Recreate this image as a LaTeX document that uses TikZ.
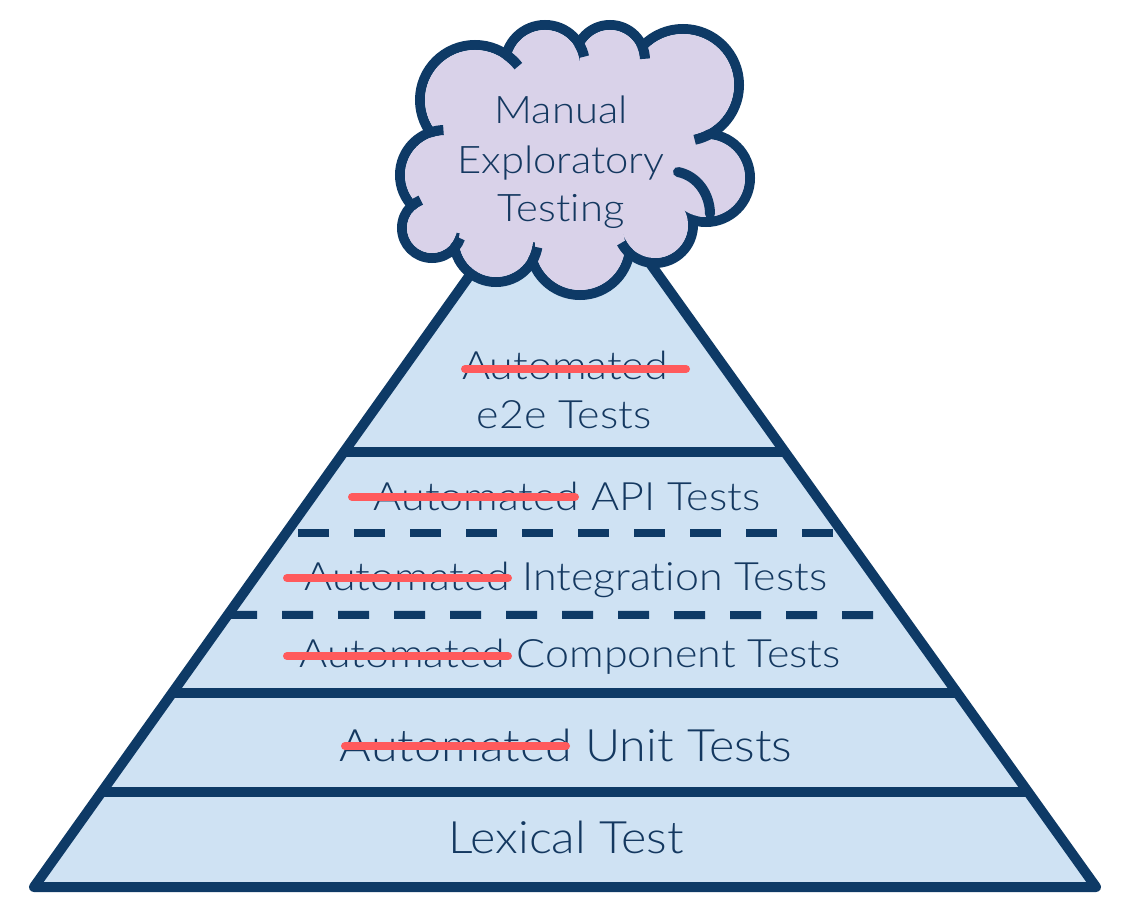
\documentclass[tikz,border=0pt]{standalone}
\usepackage{fontspec}
\setmainfont{Lato}
\newfontfamily\labelfont{Lato Light}[Ligatures=NoCommon]
\usetikzlibrary{calc}
\definecolor{navy}{RGB}{14,58,102}
\definecolor{inkblue}{RGB}{20,56,96}
\definecolor{layerfill}{RGB}{207,226,243}
\definecolor{cloudfill}{RGB}{217,210,233}
\definecolor{strikered}{RGB}{255,90,92}
\begin{document}
\begin{tikzpicture}[x=0.75pt,y=-0.75pt,
  outline/.style={draw=navy,line width=7.5pt,line join=round,line cap=round},
  divider/.style={draw=navy,line width=7.5pt},
  dashdivider/.style={draw=navy,line width=6pt,dash pattern=on 23.25pt off 18.75pt},
  strike/.style={draw=strikered,line width=6pt,line cap=round},
  cloudline/.style={draw=navy,line width=7.5pt},
  txt/.style={text=inkblue,anchor=base,inner sep=0pt},
  bigtext/.style={txt,font=\labelfont\addfontfeatures{FakeStretch=1.085}\fontsize{33.5}{40}\selectfont},
  midtext/.style={txt,font=\labelfont\addfontfeatures{FakeStretch=1.10}\fontsize{29.3}{35}\selectfont},
  cloudtext/.style={txt,font=\labelfont\addfontfeatures{FakeStretch=1.10}\fontsize{28.5}{34}\selectfont},
]
\useasboundingbox (0,0) rectangle (1125,916);

% pyramid body
\coordinate (apex) at (564,143);
\coordinate (bl) at (34,887);
\coordinate (br) at (1096,887);
\filldraw[fill=layerfill,outline] (apex) -- (bl) -- (br) -- cycle;

% solid layer dividers
\foreach \name/\t in {d1/0.4153, d4/0.7392, d5/0.8723}{
  \coordinate (\name-L) at ($(apex)!\t!(bl)$);
  \coordinate (\name-R) at ($(apex)!\t!(br)$);
  \draw[divider] (\name-L) -- (\name-R);
}

% dashed layer dividers
\coordinate (d2-R) at (833,533);
\coordinate (d2-L) at (298,533);
\draw[dashdivider] (d2-R) -- (d2-L);
\coordinate (d3-R) at (873,615);
\coordinate (d3-L) at ($(apex)!0.6344!(bl)$);
\draw[dashdivider] (d3-R) -- (d3-L);

% cloud: stroked lobes, then filled lobes hide the inner strokes
\def\lobes{445/175/45, 475/100/55, 545/65/40, 610/60/35, 683/85/56,
           706/178/44, 655/225/38, 580/245/50, 496/240/42, 432/228/30}
\foreach \cx/\cy/\r in \lobes{
  \draw[cloudline] (\cx,\cy) circle (\r);
}
\fill[cloudfill] (445,175) -- (475,100) -- (545,65) -- (610,60) -- (683,85)
  -- (706,178) -- (655,225) -- (580,245) -- (496,240) -- (432,228) -- cycle;
\foreach \cx/\cy/\r in \lobes{
  \fill[cloudfill] (\cx,\cy) circle ({\r-5});
}
% short overlaps where the lobes meet
\foreach \cx/\cy/\r/\a/\b in {445/175/45/251.2/268, 475/100/55/-55.3/-38,
    545/65/40/-32/-12, 610/60/35/-22.5/-2, 683/85/56/61.4/78,
    655/225/38/132.4/152, 496/240/42/29.6/10, 432/228/30/40.8/20,
    432/228/30/228/248}{
  \draw[cloudline] (\cx,\cy) ++(\a:\r) arc[start angle=\a,end angle=\b,radius=\r];
}
\draw[cloudline,line cap=round] (678,172) .. controls (698,176) and (710,195) .. (710,214);

% cloud label
\node[cloudtext] (m1) at (561,124) {Manual};
\node[cloudtext] (m2) at (561,174) {Exploratory};
\node[cloudtext] (m3) at (561,222) {Testing};

% layer labels
\node[midtext] (e2a) at (565,379) {Automated};
\node[midtext] (e2b) at (564,428) {e2e Tests};
\node[midtext] (api) at (567,510) {Automated API Tests};
\node[midtext] (int) at (566,590) {Automated Integration Tests};
\node[midtext] (comp) at (570,667) {Automated Component Tests};
\node[bigtext] (unit) at (566,761) {Automated Unit Tests};
\node[bigtext] (lex) at (566,853) {Lexical Test};

% strike-throughs
\draw[strike] (465,369) -- (686,369);
\draw[strike] (352,497) -- (575,497);
\draw[strike] (287,578) -- (508,578);
\draw[strike] (287,656) -- (508,656);
\draw[strike] (345,746) -- (566,746);
\end{tikzpicture}
\end{document}
